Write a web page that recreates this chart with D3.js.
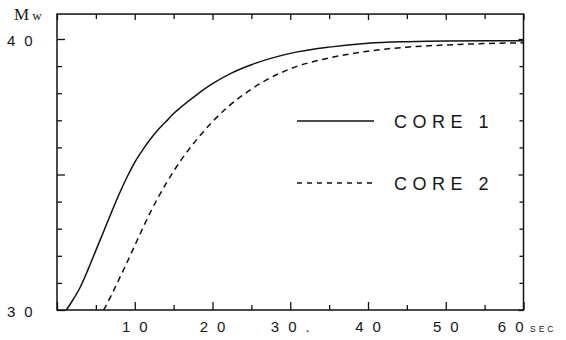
<!DOCTYPE html>
<html>
<head>
<meta charset="utf-8">
<script src="https://cdn.jsdelivr.net/npm/d3@7"></script>
<style>
  body { margin: 0; background: #fff; }
  text { font-family: "Liberation Sans", Arial, sans-serif; fill: #161616; }
</style>
</head>
<body>
<svg id="chart" width="566" height="340"></svg>
<script>
// time (sec) vs Mw
const core1Time = [1.2, 2, 3, 4, 5, 6, 7, 8, 9, 10, 11, 12, 13, 14, 15, 16, 18, 20, 22.5, 25, 30, 35, 40, 45, 50, 60];
const core1Mw   = [30, 30.35, 30.85, 31.5, 32.2, 32.9, 33.6, 34.28, 34.9, 35.45, 35.9, 36.3, 36.65, 36.95, 37.25, 37.5, 37.95, 38.35, 38.75, 39.05, 39.47, 39.7, 39.84, 39.9, 39.93, 39.94];

const core2Time = [6, 7, 8, 9, 10, 11, 12, 13, 14, 15, 16, 18, 20, 22, 24, 27, 30, 35, 40, 45, 50, 55, 60];
const core2Mw   = [30, 30.55, 31.15, 31.75, 32.38, 33.0, 33.6, 34.15, 34.65, 35.12, 35.55, 36.3, 36.95, 37.5, 37.95, 38.5, 38.9, 39.3, 39.55, 39.7, 39.78, 39.83, 39.86];

const xTickLabels = [10, 20, 30, 40, 50, 60];
const yTickLabels = [30, 40];
const seriesNames = ['CORE 1', 'CORE 2'];

const svg = d3.select('#chart');
const left = 57, right = 523.5, bottom = 310;

const x = d3.scaleLinear().domain([0, 60]).range([left, right]);
const y = d3.scaleLinear().domain([30, 40]).range([bottom, 39]);
const yTop = 40.92; // top of the frame

// frame
svg.append('rect')
  .attr('x', x(0)).attr('y', y(yTop))
  .attr('width', x(60) - x(0)).attr('height', y(30) - y(yTop))
  .attr('fill', 'none').attr('stroke', '#111').attr('stroke-width', 1.5);

const xMajor = d3.range(0, 61, 10), xMinor = d3.range(5, 60, 10);
const yMajor = [30, 35, 40], yMinor = d3.range(31, 41).filter(d => d !== 35 && d !== 40);

function tickAxis(gen, vals, size, tx, ty) {
  const g = svg.append('g')
    .attr('transform', `translate(${tx},${ty})`)
    .call(gen.tickValues(vals).tickSize(size).tickSizeOuter(0).tickFormat(''));
  g.select('.domain').remove();
  g.selectAll('line').attr('stroke', '#111').attr('stroke-width', 1.3);
  return g;
}

// bottom / top ticks point inward
tickAxis(d3.axisBottom(x), xMajor, -8, 0, bottom);
tickAxis(d3.axisBottom(x), xMinor, -5, 0, bottom);
tickAxis(d3.axisTop(x), xMajor, -6, 0, y(yTop));
tickAxis(d3.axisTop(x), xMinor, -5, 0, y(yTop));
// left / right
tickAxis(d3.axisLeft(y), yMajor, -8, left, 0);
tickAxis(d3.axisLeft(y), yMinor, -5, left, 0);
tickAxis(d3.axisRight(y), yMajor, -5, right, 0);
tickAxis(d3.axisRight(y), yMinor, -4, right, 0);

// x labels, spaced like the plotter font
const ls = 9;
svg.append('g').selectAll('text')
  .data(xTickLabels)
  .join('text')
  .attr('x', d => x(d))
  .attr('dx', d => d === 60 ? ls : ls / 2)
  .attr('y', 332)
  .attr('text-anchor', d => d === 60 ? 'end' : 'middle')
  .attr('font-size', 15)
  .attr('letter-spacing', ls)
  .text(d => d === 30 ? '30.' : d);

svg.append('text')
  .attr('x', 530).attr('y', 332)
  .attr('font-size', 8.5).attr('letter-spacing', 3)
  .text('SEC');

// y labels
svg.append('g').selectAll('text')
  .data(yTickLabels)
  .join('text')
  .attr('x', 7)
  .attr('y', d => y(d) + 6.5)
  .attr('font-size', 15)
  .attr('letter-spacing', ls)
  .text(d => d);

const mw = svg.append('text').attr('x', 14).attr('y', 20)
  .style('font-family', '"Liberation Serif", "Times New Roman", serif');
mw.append('tspan').attr('font-size', 17).text('M');
mw.append('tspan').attr('dx', 3).attr('font-size', 13).text('w');

// curves
const line = d3.line()
  .x(d => x(d[0]))
  .y(d => y(d[1]))
  .curve(d3.curveMonotoneX);

const series = [
  { name: seriesNames[0], pts: d3.zip(core1Time, core1Mw), dash: null },
  { name: seriesNames[1], pts: d3.zip(core2Time, core2Mw), dash: '6,4.5' }
];

svg.append('g').selectAll('path')
  .data(series)
  .join('path')
  .attr('d', d => line(d.pts))
  .attr('fill', 'none')
  .attr('stroke', '#111')
  .attr('stroke-width', 1.5)
  .attr('stroke-dasharray', d => d.dash);

// legend
const legend = svg.append('g').selectAll('g')
  .data(series)
  .join('g')
  .attr('transform', (d, i) => `translate(297,${121 + i * 62})`);

legend.append('line')
  .attr('x1', 0).attr('x2', 77)
  .attr('stroke', '#111').attr('stroke-width', 1.4)
  .attr('stroke-dasharray', d => d.dash ? '5,5' : null);

legend.append('text')
  .attr('x', 97).attr('y', 7)
  .attr('font-size', 18)
  .attr('letter-spacing', 5.5)
  .text(d => d.name);
</script>
</body>
</html>
